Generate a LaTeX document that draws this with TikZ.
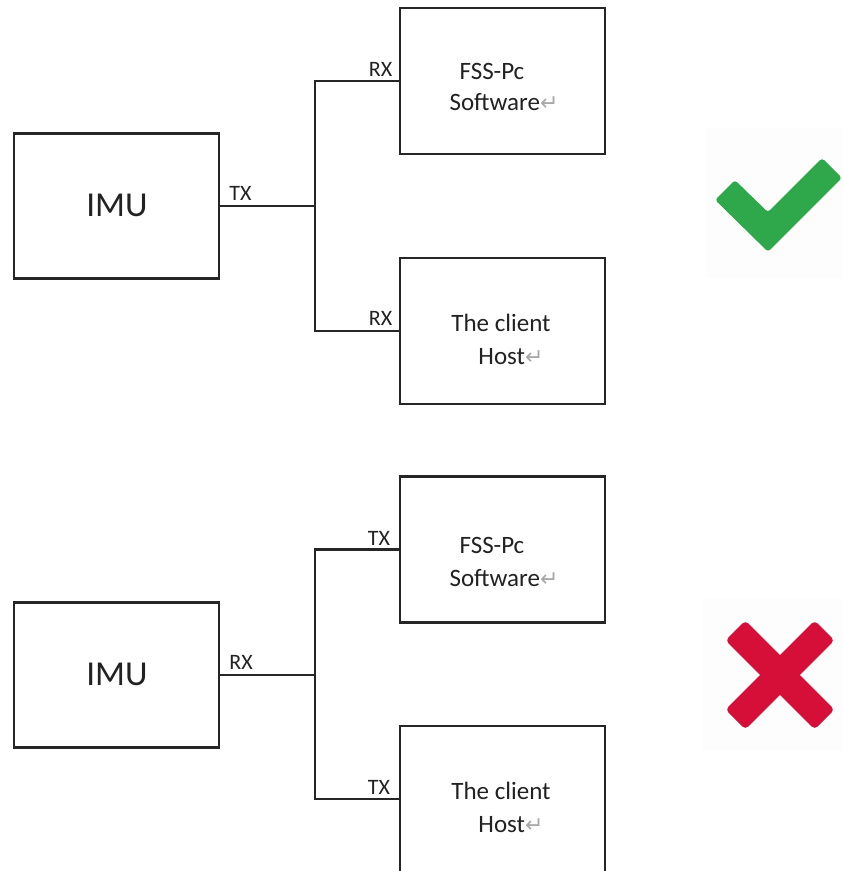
\documentclass[tikz,border=0pt]{standalone}
\usepackage{fontspec}
\setmainfont{Carlito}
\newfontfamily\symfont{DejaVu Sans}
\definecolor{linecol}{HTML}{262626}
\definecolor{txtcol}{HTML}{222222}
\definecolor{markgray}{HTML}{A8A8A8}
\definecolor{okgreen}{HTML}{2EA84A}
\definecolor{badred}{HTML}{D50F38}
\definecolor{iconbg}{HTML}{FDFDFD}
\newcommand\pmark{{\symfont\color{markgray}\fontsize{22}{22}\selectfont ↵}}
\begin{document}
\begin{tikzpicture}[x=1pt,y=-1pt,
  block/.style={draw=linecol,line width=2.8pt,minimum width=205pt,minimum height=146pt,inner sep=0pt},
  imubox/.style={block,minimum height=145pt},
  wire/.style={draw=linecol,line width=2.8pt},
  pin/.style={text=txtcol,font=\fontsize{22}{22}\selectfont,inner sep=0pt},
  body/.style={text=txtcol,font=\fontsize{25}{25}\selectfont,inner sep=0pt},
  big/.style={text=txtcol,font=\fontsize{35}{35}\selectfont,inner sep=0pt}]
\useasboundingbox (0,0) rectangle (843,871);
\fill[white] (0,0) rectangle (843,871);

% ---------- upper wiring: IMU TX feeds both RX inputs ----------
\node[imubox] (imuA) at (116.5,206) {};
\node[big] (imuAt) at (117,205) {IMU};
\node[block] (fssA) at (502.5,81) {};
\node[block] (hostA) at (502.5,331) {};
\coordinate (busA) at (315,206);
\draw[wire] (imuA.east) -- (busA);
\draw[wire] (fssA.west) -| (busA) |- (hostA.west);
\node[pin] (txA) at (240.5,193) {TX};
\node[pin] (rxA1) at (380.5,69) {RX};
\node[pin] (rxA2) at (380.5,318) {RX};
\node[body] (fssA1) at (492,71) {FSS-Pc};
\node[body] (fssA2) at (504,102) {Software\pmark};
\node[body] (hostA1) at (501,323) {The client};
\node[body] (hostA2) at (511,357) {Host\pmark};

% ---------- lower wiring: IMU RX fed by both TX outputs ----------
\node[imubox] (imuB) at (116.5,675) {};
\node[big] (imuBt) at (117,674) {IMU};
\node[block] (fssB) at (502.5,549.5) {};
\node[block] (hostB) at (502.5,799) {};
\coordinate (busB) at (315,675);
\draw[wire] (imuB.east) -- (busB);
\draw[wire] (fssB.west) -| (busB) |- (hostB.west);
\node[pin] (rxB) at (241,662) {RX};
\node[pin] (txB1) at (379,538) {TX};
\node[pin] (txB2) at (379,787) {TX};
\node[body] (fssB1) at (492,545) {FSS-Pc};
\node[body] (fssB2) at (504,578) {Software\pmark};
\node[body] (hostB1) at (501,791) {The client};
\node[body] (hostB2) at (511,825) {Host\pmark};

% ---------- verdict icons ----------
\fill[iconbg] (705,128) rectangle (843,278);
\fill[okgreen,rounded corners=3pt]
  (715.1,199.9) -- (734.9,180.1) -- (768,212.2) -- (822.1,158.1)
  -- (841.9,177.9) -- (768,251.8) -- cycle;

\fill[iconbg] (703,598) rectangle (843,750);
\node[fill=badred,minimum width=126pt,minimum height=28pt,inner sep=0pt,
      rounded corners=4pt,rotate=45] (crossA) at (780,675) {};
\node[fill=badred,minimum width=126pt,minimum height=28pt,inner sep=0pt,
      rounded corners=4pt,rotate=-45] (crossB) at (780,675) {};
\end{tikzpicture}
\end{document}
